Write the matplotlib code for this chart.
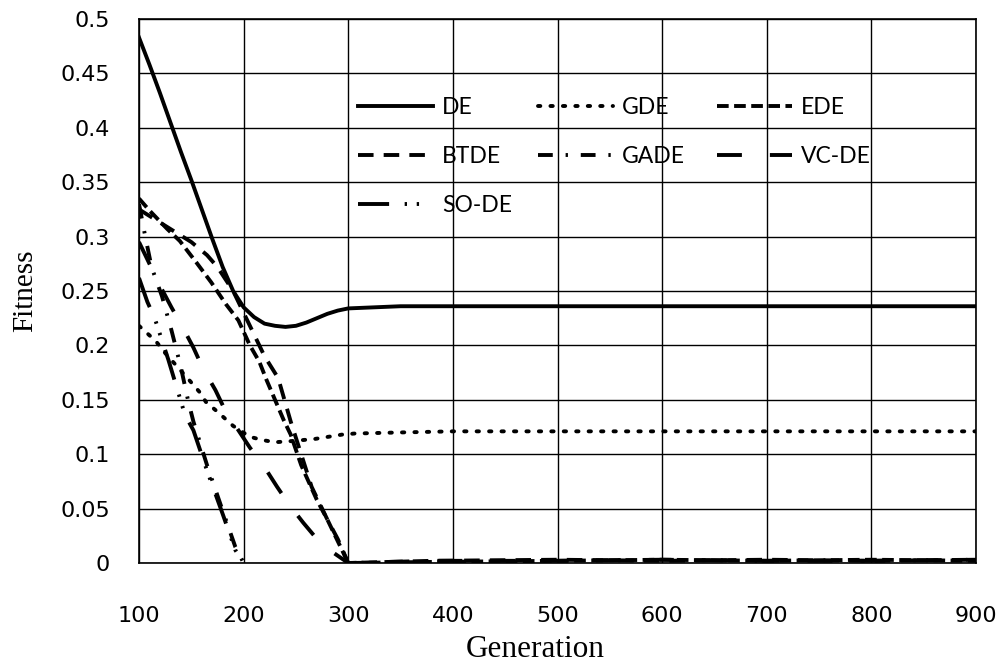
import matplotlib
matplotlib.use("Agg")
import matplotlib.pyplot as plt

# values
de_x = [100, 110, 120, 130, 140, 150, 160, 170, 180, 190, 200, 210, 220, 230, 240, 250, 260, 270, 280, 290, 300, 350, 400, 500, 600, 700, 800, 900]
de_y = [0.483, 0.458, 0.432, 0.405, 0.378, 0.352, 0.325, 0.298, 0.272, 0.25, 0.235, 0.226, 0.22, 0.218, 0.217, 0.218, 0.221, 0.225, 0.229, 0.232, 0.234, 0.236, 0.236, 0.236, 0.236, 0.236, 0.236, 0.236]

gde_x = [100, 108, 116, 125, 149, 158, 164, 175, 190, 206, 218, 230, 245, 268, 281, 294, 306, 350, 400, 500, 600, 700, 800, 900]
gde_y = [0.218, 0.211, 0.204, 0.193, 0.167, 0.157, 0.148, 0.139, 0.126, 0.116, 0.113, 0.111, 0.112, 0.114, 0.116, 0.118, 0.119, 0.12, 0.121, 0.121, 0.121, 0.121, 0.121, 0.121]

ede_x = [100, 110, 120, 127, 139, 155, 169, 183, 195, 206, 215, 222, 230, 238, 245, 255, 262, 270, 280, 290, 300, 380, 500, 600, 700, 800, 900]
ede_y = [0.335, 0.324, 0.314, 0.307, 0.296, 0.276, 0.258, 0.238, 0.223, 0.2, 0.185, 0.168, 0.15, 0.132, 0.118, 0.09, 0.075, 0.058, 0.04, 0.02, 0.0, 0.001, 0.002, 0.003, 0.002, 0.003, 0.002]

btde_x = [100, 125, 150, 165, 175, 190, 205, 220, 233, 245, 255, 265, 280, 290, 300, 380, 500, 600, 700, 800, 900]
btde_y = [0.325, 0.31, 0.295, 0.283, 0.272, 0.25, 0.22, 0.19, 0.17, 0.13, 0.1, 0.07, 0.04, 0.022, 0.0, 0.002, 0.003, 0.002, 0.003, 0.002, 0.003]

gade_x = [100, 106, 112, 122, 131, 140, 147, 152, 165, 180, 192, 200]
gade_y = [0.33, 0.3, 0.272, 0.245, 0.214, 0.18, 0.149, 0.13, 0.09, 0.048, 0.015, 0.0]

vcde_x = [100, 110, 120, 131, 141, 152, 161, 173, 182, 195, 206, 220, 232, 244, 257, 271, 285, 300, 380, 500, 600, 700, 800, 900]
vcde_y = [0.295, 0.275, 0.255, 0.235, 0.218, 0.198, 0.179, 0.159, 0.141, 0.122, 0.106, 0.088, 0.07, 0.053, 0.037, 0.021, 0.01, 0.0, 0.002, 0.002, 0.003, 0.002, 0.002, 0.003]

sode_x = [100, 108, 115, 128, 144, 152, 165, 180, 192, 200]
sode_y = [0.262, 0.24, 0.225, 0.187, 0.136, 0.122, 0.085, 0.045, 0.012, 0.0]

x_ticks = [100, 200, 300, 400, 500, 600, 700, 800, 900]
y_ticks = [0, 0.05, 0.1, 0.15, 0.2, 0.25, 0.3, 0.35, 0.4, 0.45, 0.5]
y_ticklabels = ["0", "0.05", "0.1", "0.15", "0.2", "0.25", "0.3", "0.35", "0.4", "0.45", "0.5"]

fig = plt.figure(figsize=(10.04, 6.65), dpi=100)
ax = fig.add_axes([139 / 1004, 1 - 563 / 665, 837 / 1004, 544 / 665])

lw = 2.8
l_de, = ax.plot(de_x, de_y, color="black", lw=lw, ls="-", label="DE")
l_gde, = ax.plot(gde_x, gde_y, color="black", lw=lw, ls=(0, (0.6, 2.6)),
                 dash_capstyle="round", label="GDE")
l_ede, = ax.plot(ede_x, ede_y, color="black", lw=lw, ls=(0, (3, 1.4)), label="EDE")
l_btde, = ax.plot(btde_x, btde_y, color="black", lw=lw, ls=(0, (4, 2.6)), label="BTDE")
l_gade, = ax.plot(gade_x, gade_y, color="black", lw=lw, ls=(0, (3.8, 3.3, 0.6, 3.3)), label="GADE")
l_vcde, = ax.plot(vcde_x, vcde_y, color="black", lw=lw, ls=(0, (6.4, 7.2)), label="VC-DE")
l_sode, = ax.plot(sode_x, sode_y, color="black", lw=lw, ls=(0, (8, 4, 0.6, 2.5, 0.6, 4)), label="SO-DE")

ax.set_xlim(100, 900)
ax.set_ylim(0, 0.5)
ax.set_xticks(x_ticks)
ax.set_yticks(y_ticks)
ax.set_yticklabels(y_ticklabels)
ax.tick_params(length=0, labelsize=16)
ax.tick_params(axis="y", pad=21)
ax.tick_params(axis="x", pad=31)
ax.grid(True, color="black", lw=1.0)
ax.set_axisbelow(True)
for s in ax.spines.values():
    s.set_color("black")
    s.set_linewidth(1.2)

ax.set_xlabel("Generation", fontfamily="Liberation Serif", fontsize=22.5)
ax.set_ylabel("Fitness", fontfamily="Liberation Serif", fontsize=21)
ax.xaxis.set_label_coords(0.474, -0.132)
ax.yaxis.set_label_coords(-0.12, 0.5)

# legend as three columns, placed separately
leg_kw = dict(frameon=False, loc="upper left", borderpad=0, borderaxespad=0,
              handlelength=3.27, handletextpad=0.4, labelspacing=1.22,
              prop={"family": "Lato", "size": 16.5})
top = 0.857
leg1 = ax.legend([l_de, l_btde, l_sode], ["DE", "BTDE", "SO-DE"],
                 bbox_to_anchor=(0.2616, top), **leg_kw)
ax.add_artist(leg1)
leg2 = ax.legend([l_gde, l_gade], ["GDE", "GADE"],
                 bbox_to_anchor=(0.4767, top), **leg_kw)
ax.add_artist(leg2)
ax.legend([l_ede, l_vcde], ["EDE", "VC-DE"],
          bbox_to_anchor=(0.6906, top), **leg_kw)

fig.savefig("out.png", dpi=100, facecolor="white")
